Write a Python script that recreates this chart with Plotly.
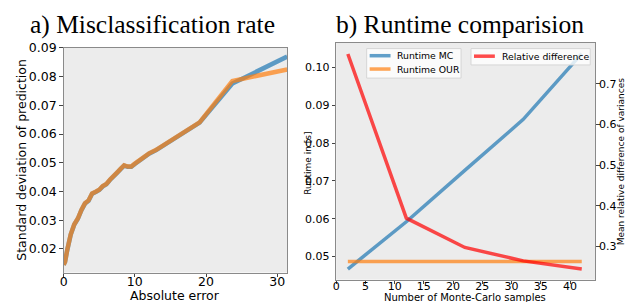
import plotly.graph_objects as go

# ---- Data: a) Misclassification rate ----
abs_error = [0, 0.2, 0.5, 1.0, 1.5, 2.0, 2.5, 3.0, 3.5, 4.0, 4.5, 5.0, 5.5, 6.0, 6.5, 7.0,
             7.5, 8.0, 8.5, 9.0, 9.5, 10.0, 11.0, 12.0, 13.0, 14.0, 15.0, 16.0, 17.0,
             18.0, 19.1, 23.7, 31.4]
std_mc = [0.0145, 0.0155, 0.0195, 0.0250, 0.0285, 0.0305, 0.0335, 0.0358, 0.0368, 0.0392,
          0.0398, 0.0405, 0.0418, 0.0425, 0.0440, 0.0450, 0.0465, 0.0478, 0.0490, 0.0486,
          0.0486, 0.0496, 0.0514, 0.0532, 0.0544, 0.0559, 0.0577, 0.0590, 0.0605,
          0.0620, 0.0640, 0.0776, 0.0870]
std_our = [0.0145, 0.0155, 0.0196, 0.0251, 0.0286, 0.0306, 0.0336, 0.0359, 0.0369, 0.0393,
           0.0399, 0.0406, 0.0419, 0.0426, 0.0441, 0.0451, 0.0466, 0.0479, 0.0491, 0.0487,
           0.0487, 0.0497, 0.0515, 0.0533, 0.0545, 0.0560, 0.0578, 0.0591, 0.0606,
           0.0621, 0.0641, 0.0785, 0.0825]

# ---- Data: b) Runtime comparision ----
n_samples = [2, 12, 22, 32, 42]
runtime_mc = [0.0467, 0.0592, 0.0728, 0.0863, 0.1037]
runtime_our = [0.0487, 0.0487, 0.0487, 0.0487, 0.0487]
rel_diff = [0.773, 0.370, 0.298, 0.265, 0.245]

series_names = ["Runtime MC", "Runtime OUR", "Relative difference"]

W, H = 626, 302
BLUE = "rgba(31,119,180,0.7)"
ORANGE = "rgba(255,127,14,0.7)"
RED = "rgba(255,0,0,0.7)"
FONT = "DejaVu Sans"
SPINE = "#8a8a8a"

def px_x(p):
    return p / W

def px_y(p):
    return 1 - p / H

fig = go.Figure()

fig.add_trace(go.Scatter(x=abs_error, y=std_mc, mode="lines", line=dict(color=BLUE, width=4.5),
                         xaxis="x", yaxis="y", showlegend=False))
fig.add_trace(go.Scatter(x=abs_error, y=std_our, mode="lines", line=dict(color=ORANGE, width=4.5),
                         xaxis="x", yaxis="y", showlegend=False))

fig.add_trace(go.Scatter(x=n_samples, y=runtime_mc, mode="lines", name=series_names[0],
                         line=dict(color=BLUE, width=3.5), xaxis="x2", yaxis="y2", showlegend=False))
fig.add_trace(go.Scatter(x=n_samples, y=runtime_our, mode="lines", name=series_names[1],
                         line=dict(color=ORANGE, width=3.5), xaxis="x2", yaxis="y2", showlegend=False))
fig.add_trace(go.Scatter(x=n_samples, y=rel_diff, mode="lines", name=series_names[2],
                         line=dict(color=RED, width=3.5), xaxis="x2", yaxis="y3", showlegend=False))

axis_common = dict(showline=True, linecolor=SPINE, linewidth=1, mirror=True, showgrid=False,
                   zeroline=False, ticks="outside", ticklen=3.5, tickcolor="#444", tickwidth=1)

fig.update_layout(
    width=W, height=H,
    margin=dict(l=0, r=0, t=0, b=0),
    paper_bgcolor="white",
    plot_bgcolor="#ececec",
    font=dict(family=FONT, color="black"),
    showlegend=False,
    xaxis=dict(domain=[px_x(60), px_x(285)], range=[0, 31.4], tickvals=[0, 10, 20, 30],
               tickfont=dict(size=12.5), anchor="y", ticklabelstandoff=-6, **axis_common),
    yaxis=dict(domain=[px_y(271.7), px_y(41)], range=[0.0118, 0.09],
               tickvals=[0.02, 0.03, 0.04, 0.05, 0.06, 0.07, 0.08, 0.09], tickformat=".2f",
               tickfont=dict(size=12.5), anchor="x", **axis_common),
    xaxis2=dict(domain=[px_x(334.3), px_x(595)], range=[0, 44.3],
                tickvals=[0, 5, 10, 15, 20, 25, 30, 35, 40],
                tickfont=dict(size=11), anchor="y2", ticklabelstandoff=-7, **axis_common),
    yaxis2=dict(domain=[px_y(279), px_y(36)], range=[0.0439, 0.1065],
                tickvals=[0.05, 0.06, 0.07, 0.08, 0.09, 0.10], tickformat=".2f",
                tickfont=dict(size=11), anchor="x2", **axis_common),
    yaxis3=dict(overlaying="y2", side="right", anchor="x2", range=[0.219, 0.80],
                tickvals=[0.3, 0.4, 0.5, 0.6, 0.7], tickformat=".1f", showgrid=False,
                zeroline=False, showline=False, ticks="outside", ticklen=3.5,
                tickcolor="#444", tickfont=dict(size=11), ticklabelstandoff=-3),
)

# legends (drawn as boxes, line samples and text to match the matplotlib layout)
shapes = []
annotations = []
legend_boxes = [(365, 41.7, 460, 72.0), (470, 41.7, 590, 58.5)]
for (x0, y0, x1, y1) in legend_boxes:
    shapes.append(dict(type="rect", xref="paper", yref="paper", x0=px_x(x0), x1=px_x(x1),
                       y0=px_y(y1), y1=px_y(y0), fillcolor="rgba(255,255,255,0.8)",
                       line=dict(color="#d6d6d6", width=1), layer="above"))
legend_items = [(series_names[0], BLUE, 368, 49.0), (series_names[1], ORANGE, 368, 62.7),
                (series_names[2], RED, 473, 49.5)]
for name, color, lx, ly in legend_items:
    shapes.append(dict(type="line", xref="paper", yref="paper", x0=px_x(lx), x1=px_x(lx + 21),
                       y0=px_y(ly), y1=px_y(ly), line=dict(color=color, width=3.5), layer="above"))
    annotations.append(dict(text=name, x=px_x(lx + 26), y=px_y(ly), xanchor="left",
                            yanchor="middle", font=dict(size=9.3)))

annotations += [
    dict(text="a) Misclassification rate", x=px_x(149), y=px_y(17), xanchor="center", yanchor="middle",
         font=dict(family="Liberation Serif", size=25.5)),
    dict(text="b) Runtime comparision", x=px_x(459), y=px_y(17), xanchor="center", yanchor="middle",
         font=dict(family="Liberation Serif", size=25.5)),
    dict(text="Standard deviation of prediction", x=px_x(18), y=px_y(156), textangle=-90,
         xanchor="center", yanchor="middle", font=dict(size=12.5)),
    dict(text="Absolute error", x=px_x(172), y=px_y(295.5), xanchor="center", yanchor="middle",
         font=dict(size=12.5)),
    dict(text="Number of Monte-Carlo samples", x=px_x(464), y=px_y(297.5), xanchor="center",
         yanchor="middle", font=dict(size=10)),
    dict(text="Runtime in [s]", x=px_x(306), y=px_y(160), textangle=-90, xanchor="center",
         yanchor="middle", font=dict(size=9)),
    dict(text="Mean relative difference of variances", x=px_x(620.5), y=px_y(158), textangle=-90,
         xanchor="center", yanchor="middle", font=dict(size=9)),
]
for a in annotations:
    a.update(xref="paper", yref="paper", showarrow=False)
fig.update_layout(annotations=annotations, shapes=shapes)

fig.write_html("out.html", config={"displayModeBar": False})

# pin the figure to the window origin (no default page margins)
with open("out.html", "r", encoding="utf-8") as f:
    html = f.read()
style = ("<style>html,body{margin:0;padding:0;overflow:hidden;}"
         ".plotly-graph-div{position:absolute;top:0;left:0;}</style>")
html = html.replace("</head>", style + "</head>", 1)
with open("out.html", "w", encoding="utf-8") as f:
    f.write(html)
